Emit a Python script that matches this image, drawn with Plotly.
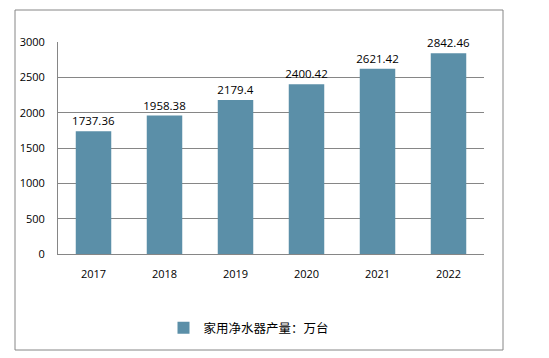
import plotly.graph_objects as go

years = ["2017", "2018", "2019", "2020", "2021", "2022"]
values = [1737.36, 1958.38, 2179.4, 2400.42, 2621.42, 2842.46]
labels = ["1737.36", "1958.38", "2179.4", "2400.42", "2621.42", "2842.46"]
series_name = "家用净水器产量：万台"

bar_color = "#5B8FA8"
font_family = "Open Sans, Noto Sans CJK SC, sans-serif"

fig = go.Figure()
fig.add_trace(go.Bar(
    x=years, y=values, name=series_name,
    marker=dict(color=bar_color, line=dict(width=0)),
    width=0.5,
    text=labels, textposition="outside", constraintext="none",
    textfont=dict(size=11.5, color="#000000", family=font_family),
    cliponaxis=False,
))

W, H = 549, 358
l, r, t, b = 58, 65, 42, 104
pw, ph = W - l - r, H - t - b

def px(x):
    return (x - l) / pw

def py(y):
    return (H - b - y) / ph

fig.update_layout(
    width=W, height=H,
    margin=dict(l=l, r=r, t=t, b=b),
    paper_bgcolor="white", plot_bgcolor="white",
    font=dict(family=font_family, size=11, color="#000000"),
    showlegend=True,
    uniformtext=dict(mode=False),
    legend=dict(orientation="h", x=px(249), xanchor="center", y=py(328), yanchor="middle",
                font=dict(size=12.5, family=font_family), itemwidth=30),
    bargap=0.5,
    xaxis=dict(showgrid=False, showline=True, linecolor="#868686", linewidth=1,
               ticks="", ticklabelstandoff=10, tickfont=dict(size=11)),
    yaxis=dict(range=[0, 3000], dtick=500, showgrid=True, gridcolor="#868686", gridwidth=1,
               showline=True, linecolor="#868686", linewidth=1, zeroline=False,
               ticks="", ticklabelstandoff=10, tickfont=dict(size=11)),
    shapes=[dict(type="rect", xref="paper", yref="paper",
                 x0=px(15), x1=px(503), y0=py(350), y1=py(10),
                 line=dict(color="#868686", width=1), fillcolor="rgba(0,0,0,0)", layer="below")],
)

fig.write_html("out.html", config={"displayModeBar": False},
               post_script="document.body.style.margin='0';")
